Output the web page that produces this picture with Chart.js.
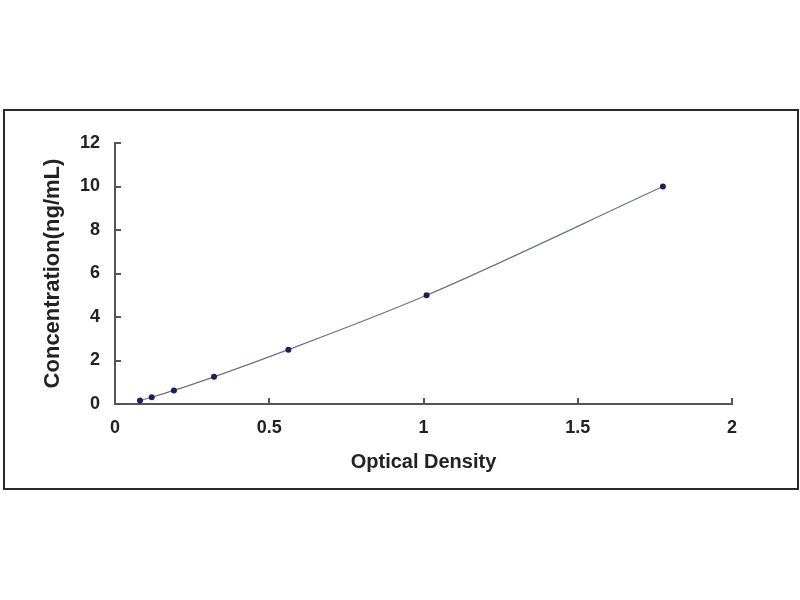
<!DOCTYPE html>
<html>
<head>
<meta charset="utf-8">
<script src="https://cdn.jsdelivr.net/npm/chart.js@4.4.1/dist/chart.umd.min.js"></script>
<style>
  html, body { margin: 0; padding: 0; background: #fff; }
  #wrap { position: relative; width: 800px; height: 600px; }
  #frame { position: absolute; left: 3px; top: 109px; width: 792px; height: 377px; border: 2px solid #2a2a2a; pointer-events: none; }
  canvas { position: absolute; left: 0; top: 0; }
</style>
</head>
<body>
<div id="wrap">
  <canvas id="c" width="800" height="600"></canvas>
  <div id="frame"></div>
</div>
<script>
// Data
const opticalDensity = [0.081, 0.119, 0.191, 0.321, 0.562, 1.01, 1.776];
const concentration = [0.156, 0.312, 0.625, 1.25, 2.5, 5, 10];
const xTickValues = [0, 0.5, 1, 1.5, 2];
const xTickLabels = ['0', '0.5', '1', '1.5', '2'];
const yTickValues = [0, 2, 4, 6, 8, 10, 12];
const yTickLabels = ['0', '2', '4', '6', '8', '10', '12'];
const xTitle = 'Optical Density';
const yTitle = 'Concentration(ng/mL)';

const points = opticalDensity.map((x, i) => ({ x: x, y: concentration[i] }));
const fontFamily = '"Liberation Sans", Arial, sans-serif';
const axisColor = '#555';

new Chart(document.getElementById('c'), {
  type: 'scatter',
  data: {
    datasets: [{
      data: points,
      showLine: true,
      borderColor: '#6a7284',
      borderWidth: 1.2,
      cubicInterpolationMode: 'monotone',
      pointRadius: 3,
      pointBackgroundColor: '#1b2060',
      pointBorderColor: '#1b2060',
      pointBorderWidth: 0
    }]
  },
  options: {
    responsive: false,
    animation: false,
    devicePixelRatio: 1,
    layout: { padding: { left: 0, top: 143, right: 68, bottom: 120 } },
    plugins: { legend: { display: false }, tooltip: { enabled: false } },
    scales: {
      x: {
        type: 'linear',
        min: 0, max: 2,
        afterBuildTicks: s => { s.ticks = xTickValues.map(v => ({ value: v })); },
        afterFit: s => { s.height = 76; },
        grid: { drawOnChartArea: false, drawTicks: true, tickLength: -6, color: axisColor, lineWidth: 2 },
        border: { display: true, color: axisColor, width: 2 },
        ticks: {
          color: '#222', padding: 19,
          font: { family: fontFamily, size: 18, weight: 'bold' },
          callback: (v) => { const i = xTickValues.indexOf(v); return i >= 0 ? xTickLabels[i] : String(v); }
        },
        title: { display: true, text: xTitle, color: '#222', padding: { top: 0, bottom: 6 }, font: { family: fontFamily, size: 20, weight: 'bold' } }
      },
      y: {
        type: 'linear',
        min: 0, max: 12,
        afterBuildTicks: s => { s.ticks = yTickValues.map(v => ({ value: v })); },
        afterFit: s => { s.width = 115; },
        grid: { drawOnChartArea: false, drawTicks: true, tickLength: -6, color: axisColor, lineWidth: 2 },
        border: { display: true, color: axisColor, width: 2 },
        ticks: {
          color: '#222', padding: 21,
          font: { family: fontFamily, size: 18, weight: 'bold' },
          callback: (v) => { const i = yTickValues.indexOf(v); return i >= 0 ? yTickLabels[i] : String(v); }
        },
        title: { display: true, text: yTitle, color: '#222', padding: { top: 40, bottom: 0 }, font: { family: fontFamily, size: 22, weight: 'bold' } }
      }
    }
  }
});
</script>
</body>
</html>
